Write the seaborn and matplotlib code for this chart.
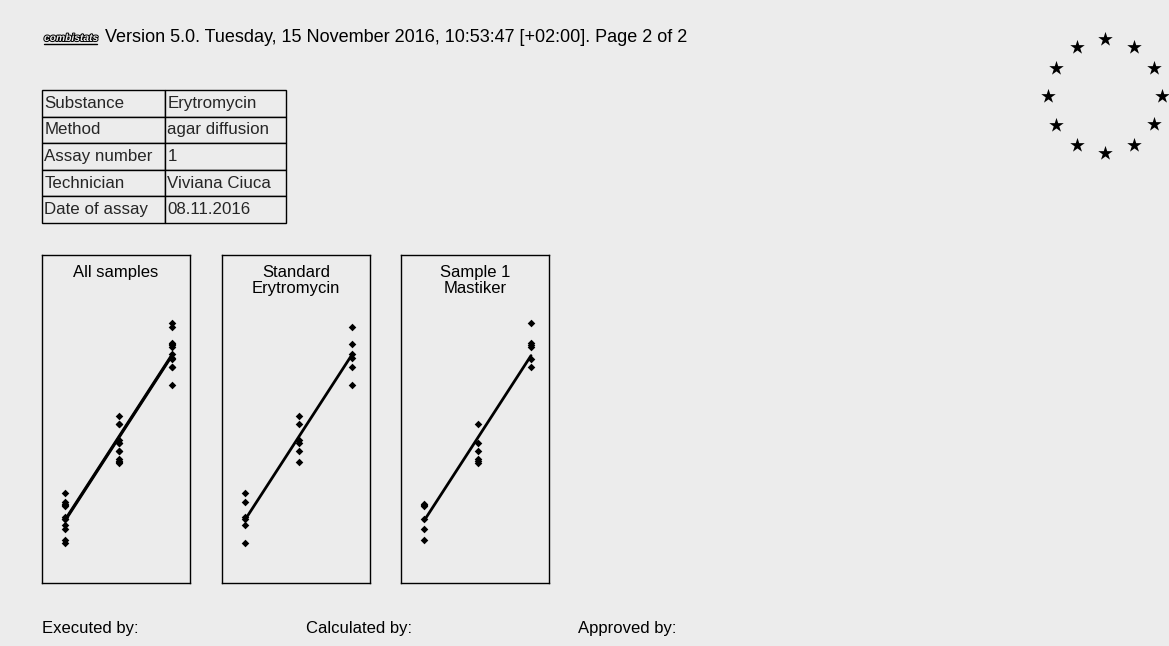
import numpy as np
import pandas as pd
import matplotlib
matplotlib.use("Agg")
import matplotlib.pyplot as plt
import matplotlib.patheffects as pe
import seaborn as sns

# ---- assay data: zone diameters (mm) at three dose levels, six replicates each
dose_levels = [1, 2, 3]
std_low = [19.0, 18.1, 16.6, 16.4, 15.8, 14.0]
std_mid = [26.7, 25.9, 24.3, 24.0, 23.2, 22.1]
std_high = [35.6, 33.9, 32.9, 32.5, 31.6, 29.8]
smp_low = [17.9, 17.8, 17.7, 16.4, 15.4, 14.3]
smp_mid = [25.9, 24.0, 23.2, 22.4, 22.2, 22.0]
smp_high = [36.0, 34.0, 33.8, 33.6, 32.4, 31.6]

preparations = ["Standard", "Sample 1"]
panel_titles = ["All samples", "Standard\nErytromycin", "Sample 1\nMastiker"]

header = "Version 5.0. Tuesday, 15 November 2016, 10:53:47 [+02:00]. Page 2 of 2"
table_rows = ["Substance", "Method", "Assay number", "Technician", "Date of assay"]
table_vals = ["Erytromycin", "agar diffusion", "1", "Viviana Ciuca", "08.11.2016"]
footer = ["Executed by:", "Calculated by:", "Approved by:"]

BG = "#ececec"

sns.set_theme(style="white")
plt.rcParams["font.family"] = ["Liberation Sans", "DejaVu Sans"]

# long-form response table
rows = []
for prep, groups in zip(preparations, [(std_low, std_mid, std_high), (smp_low, smp_mid, smp_high)]):
    for d, vals in zip(dose_levels, groups):
        for v in vals:
            rows.append({"prep": prep, "dose": d, "response": v})
df = pd.DataFrame(rows)

# parallel-line model: common slope, separate intercepts
sxy = 0.0
sxx = 0.0
for prep, g in df.groupby("prep"):
    xm, ym = g["dose"].mean(), g["response"].mean()
    sxy += ((g["dose"] - xm) * (g["response"] - ym)).sum()
    sxx += ((g["dose"] - xm) ** 2).sum()
slope = sxy / sxx
fit_rows = []
for prep, g in df.groupby("prep"):
    xm, ym = g["dose"].mean(), g["response"].mean()
    for d in (min(dose_levels), max(dose_levels)):
        fit_rows.append({"prep": prep, "dose": d, "response": ym + slope * (d - xm)})
fit = pd.DataFrame(fit_rows)

W, H = 1169, 646
fig = plt.figure(figsize=(W / 100, H / 100), dpi=100, facecolor=BG)


def px_axes(x0, y0, x1, y1):
    return fig.add_axes([x0 / W, 1 - y1 / H, (x1 - x0) / W, (y1 - y0) / H])


# ---- dose-response panels
panel_left = [42, 222, 401]
subsets = [preparations, ["Standard"], ["Sample 1"]]
for left, title, subset in zip(panel_left, panel_titles, subsets):
    ax = px_axes(left, 255, left + 148, 583)
    ax.set_facecolor(BG)
    d = df[df["prep"].isin(subset)]
    f = fit[fit["prep"].isin(subset)]
    for prep in subset:
        sns.lineplot(data=f[f["prep"] == prep], x="dose", y="response", ax=ax,
                     color="black", lw=2.0, legend=False)
    sns.scatterplot(data=d, x="dose", y="response", ax=ax, color="black",
                    marker="D", s=15, linewidth=0, legend=False)
    ax.set_xlim(0.57, 3.336)
    ax.set_ylim(10, 42.8)
    ax.set_xticks([])
    ax.set_yticks([])
    ax.set_xlabel("")
    ax.set_ylabel("")
    for s in ax.spines.values():
        s.set_color("black")
        s.set_linewidth(1)
    ax.text(0.5, 0.968, title, transform=ax.transAxes, ha="center", va="top",
            fontsize=12, linespacing=1.05, color="black")

# ---- overlay axes in pixel coordinates for text and decorations
ov = fig.add_axes([0, 0, 1, 1], facecolor="none")
ov.set_xlim(0, W)
ov.set_ylim(H, 0)
ov.axis("off")

# logo
ov.text(44, 38, "combistats", fontsize=7.4, style="italic", fontweight="bold",
        color=BG, va="center", ha="left",
        path_effects=[pe.withStroke(linewidth=1.4, foreground="black")])
ov.plot([44, 97], [44, 44], color="black", lw=1)

ov.text(105, 38, header, fontsize=13.0, va="center", ha="left", color="black")

# info table
tab_ax = px_axes(42, 90, 286, 223)
tab_ax.axis("off")
tbl = tab_ax.table(cellText=[[a, b] for a, b in zip(table_rows, table_vals)],
                   colWidths=[123 / 244, 121 / 244], bbox=[0, 0, 1, 1], cellLoc="left")
tbl.auto_set_font_size(False)
for (r, c), cell in tbl.get_celld().items():
    cell.set_facecolor(BG)
    cell.set_edgecolor("black")
    cell.set_linewidth(1)
    cell.get_text().set_fontsize(12.2)
    cell.PAD = 0.02

# circle of twelve stars
n_stars = 12
ang = np.arange(n_stars) * 2 * np.pi / n_stars
ov.scatter(1105 + 57 * np.sin(ang), 96 - 57 * np.cos(ang), marker="*", s=120,
           color="black", linewidth=0)

# signature line
for x, t in zip([42, 306, 578], footer):
    ov.text(x, 629, t, fontsize=12, va="center", ha="left", color="black")

fig.savefig("out.png", dpi=100, facecolor=BG)
